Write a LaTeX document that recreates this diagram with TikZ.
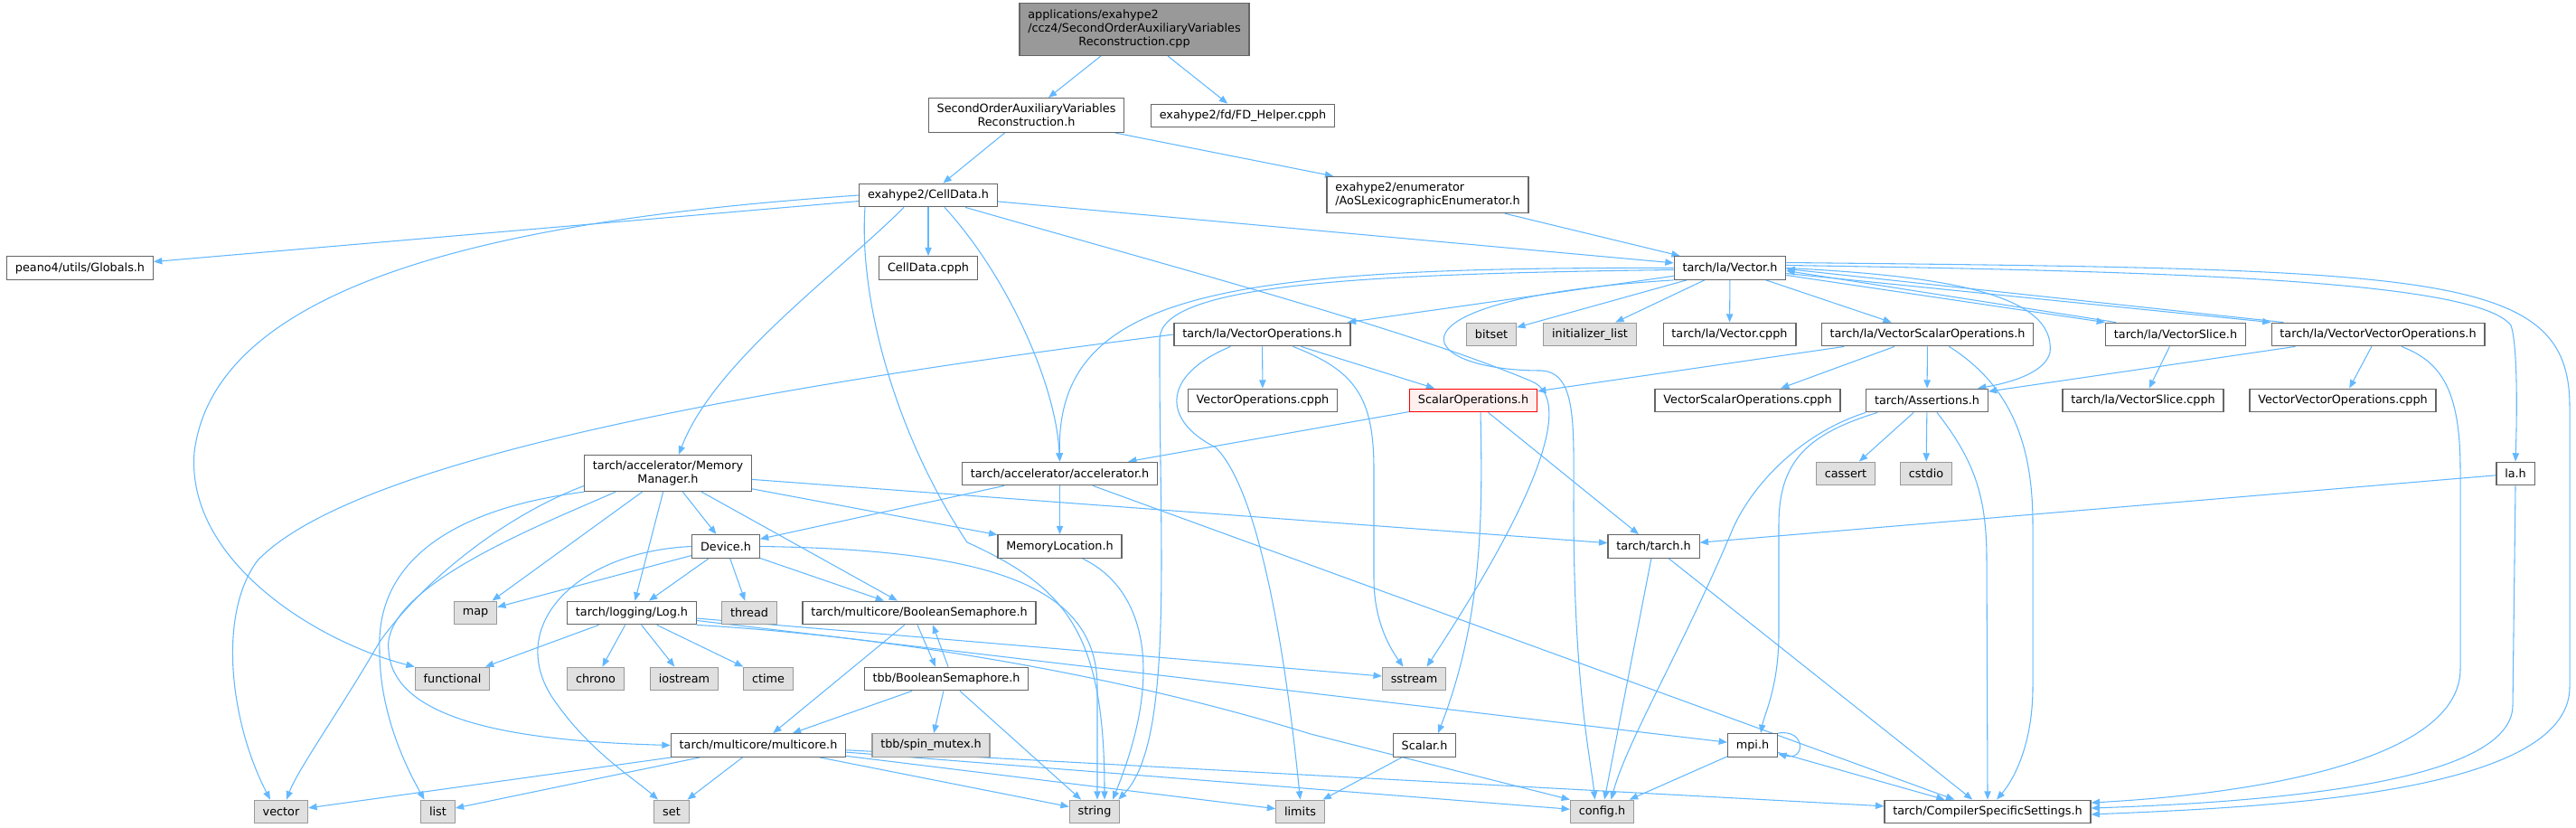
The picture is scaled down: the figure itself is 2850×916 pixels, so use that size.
\documentclass[tikz,border=0pt]{standalone}
\usepackage{fontspec}
\setmainfont{DejaVu Sans}
\usetikzlibrary{arrows.meta,calc}
\definecolor{edgeblue}{HTML}{63B8FF}
\definecolor{boxgrey}{HTML}{666666}
\definecolor{sysgrey}{HTML}{999999}
\definecolor{sysfill}{HTML}{E0E0E0}
\definecolor{rootfill}{HTML}{999999}
\definecolor{hotfill}{HTML}{FFF0F0}
\pgfdeclarelayer{bg}
\pgfsetlayers{bg,main}

\begin{document}
\begin{tikzpicture}[x=0.75pt, y=-0.75pt,
            hdr/.style={draw=boxgrey, fill=white, line width=0.9pt, inner xsep=7pt, inner ysep=4.8pt,
                minimum height=19.2pt, align=center, font=\fontsize{9.6}{11.25}\selectfont},
            sys/.style={hdr, draw=sysgrey, fill=sysfill},
            mainfile/.style={hdr, fill=rootfill},
            hot/.style={hdr, draw=red, fill=hotfill},
            incl/.style={draw=edgeblue, line width=0.8pt, -{Triangle[length=7pt,width=5.5pt]}}]
            \useasboundingbox (0,0) rectangle (2850,916);

            \node[mainfile] (root) at (1255,32.5) {\begin{tabular}{@{}l@{}}applications/exahype2\\/ccz4/SecondOrderAuxiliaryVariables\\\multicolumn{1}{@{}c@{}}{Reconstruction.cpp}\end{tabular}};
            \node[hdr] (sec) at (1135.5,127.5) {SecondOrderAuxiliaryVariables\\Reconstruction.h};
            \node[hdr] (fdh) at (1375,128) {exahype2/fd/FD\_Helper.cpph};
            \node[hdr] (celldata) at (1027,216) {exahype2/CellData.h};
            \node[hdr, align=left] (aos) at (1579.5,215.5) {exahype2/enumerator\\/AoSLexicographicEnumerator.h};

            \node[hdr] (globals) at (88.5,296.5) {peano4/utils/Globals.h};
            \node[hdr] (celldatacpph) at (1027,296.5) {CellData.cpph};
            \node[hdr] (vec) at (1914,296.5) {tarch/la/Vector.h};

            \node[hdr] (vecops) at (1396.5,370) {tarch/la/VectorOperations.h};
            \node[sys] (bitset) at (1650,370) {bitset};
            \node[sys] (initlist) at (1759,370) {initializer\_list};
            \node[hdr] (veccpph) at (1913.5,370) {tarch/la/Vector.cpph};
            \node[hdr] (vecscal) at (2132.5,370) {tarch/la/VectorScalarOperations.h};
            \node[hdr] (vecslice) at (2407,370) {tarch/la/VectorSlice.h};
            \node[hdr] (vecvec) at (2631,370) {tarch/la/VectorVectorOperations.h};

            \node[hdr] (vecopscpph) at (1397,443) {VectorOperations.cpph};
            \node[hot] (scalops) at (1630,443) {ScalarOperations.h};
            \node[hdr] (vecscalcpph) at (1933.5,443) {VectorScalarOperations.cpph};
            \node[hdr] (assertions) at (2132,443) {tarch/Assertions.h};
            \node[hdr] (vecslicecpph) at (2371,443) {tarch/la/VectorSlice.cpph};
            \node[hdr] (vecveccpph) at (2592,443) {VectorVectorOperations.cpph};

            \node[hdr] (memmgr) at (739,523.5) {tarch/accelerator/Memory\\Manager.h};
            \node[hdr] (accel) at (1172.5,524) {tarch/accelerator/accelerator.h};
            \node[sys] (cassert) at (2042,524) {cassert};
            \node[sys] (cstdio) at (2131,524) {cstdio};
            \node[hdr] (lah) at (2783,524) {la.h};

            \node[hdr] (device) at (803,604.5) {Device.h};
            \node[hdr] (memloc) at (1172.5,604.5) {MemoryLocation.h};
            \node[hdr] (tarchh) at (1829.5,604.5) {tarch/tarch.h};

            \node[sys] (map) at (526,678) {map};
            \node[hdr] (logh) at (699,678) {tarch/logging/Log.h};
            \node[sys] (thread) at (829,678) {thread};
            \node[hdr] (boolsem) at (1017,678) {tarch/multicore/BooleanSemaphore.h};

            \node[sys] (functional) at (500.5,751) {functional};
            \node[sys] (chrono) at (659,751) {chrono};
            \node[sys] (iostream) at (757,751) {iostream};
            \node[sys] (ctime) at (850,751) {ctime};
            \node[hdr] (tbbsem) at (1047,751) {tbb/BooleanSemaphore.h};
            \node[sys] (sstream) at (1564.5,751) {sstream};

            \node[hdr] (multicore) at (839,824.5) {tarch/multicore/multicore.h};
            \node[sys] (spinmutex) at (1030,824.5) {tbb/spin\_mutex.h};
            \node[hdr] (scalarh) at (1576,824.5) {Scalar.h};
            \node[hdr] (mpih) at (1939,824.5) {mpi.h};

            \node[sys] (vector) at (311,898) {vector};
            \node[sys] (list) at (484.5,898) {list};
            \node[sys] (set) at (743,898) {set};
            \node[sys] (string) at (1211,898) {string};
            \node[sys] (limits) at (1438.5,898) {limits};
            \node[sys] (config) at (1772.5,898) {config.h};
            \node[hdr] (css) at (2199,898) {tarch/CompilerSpecificSettings.h};

            \begin{pgfonlayer}{bg}
            \draw[incl] (root) -- (sec);
            \draw[incl] (root) -- (fdh);
            \draw[incl] (sec) -- (celldata);
            \draw[incl] (sec) -- (aos);
            \draw[incl] (aos) -- (vec);

            % CellData.h
            \draw[incl] (celldata) -- (globals);
            \draw[incl] (celldata.west) .. controls (600,240) and (240,300) .. (215,500) .. controls (205,620) and (350,710) .. (functional.north west);
            \draw[incl] ($(celldata.south)+(-27,0)$) .. controls (930,300) and (790,400) .. ($(memmgr.north)+(12,0)$);
            \draw[incl] ($(celldata.south)+(-70,0)$) .. controls (950,330) and (990,480) .. (1070,600) .. controls (1180,650) and (1222,700) .. ($(string.north)+(11,0)$);
            \draw[incl] (celldata) -- (celldatacpph);
            \draw[incl] ($(celldata.south)+(18,0)$) .. controls (1110,300) and (1168,420) .. (accel.north);
            \draw[incl] ($(celldata.south)+(41,0)$) .. controls (1300,296) and (1560,365) .. (1695,422) .. controls (1740,442) and (1705,545) .. ($(sstream.north)+(14,0)$);
            \draw[incl] (celldata) -- (vec);

            % Vector.h
            \draw[incl] (vec) -- (bitset);
            \draw[incl] (vec) -- (initlist);
            \draw[incl] (vec) -- (veccpph);
            \draw[incl] (vec) -- (vecops);
            \draw[incl] (vec) -- (vecscal);
            \draw[incl] ($(vec.east)+(0,8)$) -- (vecslice.north west);
            \draw[incl] ($(vecslice.north west)+(12,0)$) -- ($(vec.east)+(0,3)$);
            \draw[incl] ($(vec.east)+(0,6)$) -- (vecvec.north west);
            \draw[incl] ($(vecvec.north west)+(14,0)$) -- ($(vec.east)+(0,1)$);
            \draw[incl] (vec.west) .. controls (1350,295) and (1168,325) .. (accel.north);
            \draw[incl] ($(vec.west)+(0,2)$) .. controls (1500,303) and (1284,315) .. (1283,375) .. controls (1282,600) and (1300,820) .. ($(string.north east)+(-2,0)$);
            \draw[incl] (vec.south west) .. controls (1520,330) and (1560,410) .. (1705,410) .. controls (1745,412) and (1741,470) .. (1741,560) .. controls (1741,760) and (1760,840) .. ($(config.north)+(-8,0)$);
            \draw[incl] (vec.east) .. controls (2150,305) and (2275,325) .. (2268,390) .. controls (2262,415) and (2215,425) .. ($(assertions.north)+(56,0)$);
            \draw[incl] ($(vec.east)+(0,-3)$) .. controls (2400,300) and (2740,310) .. (2778,360) .. controls (2785,380) and (2785,450) .. (lah.north);
            \draw[incl] ($(vec.east)+(0,-6)$) .. controls (2700,298) and (2843,300) .. (2843,450) -- (2843,760) .. controls (2843,880) and (2500,893) .. ($(css.east)+(0,3)$);

            % VectorOperations.h
            \draw[incl] (vecops.west) .. controls (900,420) and (400,500) .. (285,620) .. controls (240,680) and (255,800) .. ($(vector.north)+(-12,0)$);
            \draw[incl] (vecops) -- (vecopscpph);
            \draw[incl] (vecops) -- (scalops);
            \draw[incl] ($(vecops.south)+(-35,0)$) .. controls (1285,415) and (1285,465) .. (1345,495) .. controls (1390,540) and (1420,700) .. (limits.north);
            \draw[incl] ($(vecops.south)+(34,0)$) .. controls (1500,410) and (1520,440) .. (1520,520) -- (1520,640) .. controls (1520,690) and (1540,720) .. ($(sstream.north)+(-12,0)$);

            % VectorScalarOperations.h, VectorSlice.h, VectorVectorOperations.h
            \draw[incl] (vecscal) -- (scalops);
            \draw[incl] (vecscal) -- (vecscalcpph);
            \draw[incl] (vecscal) -- (assertions);
            \draw[incl] ($(vecscal.south)+(24,0)$) .. controls (2230,430) and (2249,500) .. (2249,580) -- (2249,760) .. controls (2249,820) and (2230,860) .. ($(css.north)+(10,0)$);
            \draw[incl] (vecslice) -- (vecslicecpph);
            \draw[incl] (vecvec) -- (assertions);
            \draw[incl] (vecvec) -- (vecveccpph);
            \draw[incl] ($(vecvec.south)+(26,0)$) .. controls (2700,400) and (2722,430) .. (2722,520) -- (2722,740) .. controls (2722,840) and (2500,878) .. ($(css.east)+(0,-10)$);

            % Assertions.h, la.h
            \draw[incl] (assertions) -- (cassert);
            \draw[incl] (assertions) -- (cstdio);
            \draw[incl] ($(assertions.south)+(11,0)$) .. controls (2185,510) and (2198,550) .. (2198,620) -- (css.north);
            \draw[incl] ($(assertions.south west)+(13,0)$) .. controls (2000,480) and (1968,510) .. (1968,580) -- (1968,700) .. controls (1968,760) and (1952,790) .. ($(mpih.north)+(9,0)$);
            \draw[incl] (assertions.south west) .. controls (1990,480) and (1935,540) .. (1915,590) .. controls (1860,720) and (1800,820) .. ($(config.north)+(10,0)$);
            \draw[incl] (lah) -- (tarchh);
            \draw[incl] (lah.south) -- (2780,780) .. controls (2780,860) and (2550,886) .. ($(css.east)+(0,-4)$);

            % ScalarOperations.h
            \draw[incl] (scalops) -- (accel);
            \draw[incl] (scalops) -- (tarchh);
            \draw[incl] ($(scalops.south)+(8,0)$) .. controls (1640,560) and (1642,680) .. ($(scalarh.north)+(15,0)$);

            % MemoryManager.h
            \draw[incl] (memmgr) -- (device);
            \draw[incl] (memmgr) -- (memloc);
            \draw[incl] (memmgr) -- (tarchh);
            \draw[incl] (memmgr) -- (logh);
            \draw[incl] (memmgr) -- (boolsem);
            \draw[incl] (memmgr) -- (map);
            \draw[incl] ($(memmgr.west)+(0,14)$) .. controls (560,570) and (470,640) .. (420,710) .. controls (380,780) and (330,850) .. ($(vector.north)+(6,0)$);
            \draw[incl] (memmgr.south west) .. controls (520,560) and (415,610) .. (420,720) .. controls (420,790) and (450,850) .. ($(list.north)+(-15,0)$);
            \draw[incl] ($(memmgr.south west)+(35,0)$) .. controls (600,580) and (420,650) .. (430,720) .. controls (435,800) and (580,820) .. (multicore.west);

            % accelerator.h, Device.h, MemoryLocation.h, tarch.h
            \draw[incl] (accel) -- (device);
            \draw[incl] (accel) -- (memloc);
            \draw[incl] (accel) -- (css);
            \draw[incl] (device) -- (map);
            \draw[incl] (device) -- (logh);
            \draw[incl] (device) -- (thread);
            \draw[incl] (device) -- (boolsem);
            \draw[incl] (device.west) .. controls (640,610) and (560,690) .. (610,770) .. controls (650,830) and (700,860) .. ($(set.north)+(-15,0)$);
            \draw[incl] (device.east) .. controls (1100,608) and (1214,650) .. (1214,760) -- ($(string.north)+(3,0)$);
            \draw[incl] ($(memloc.south)+(25,0)$) .. controls (1265,650) and (1290,740) .. ($(string.north)+(20,0)$);
            \draw[incl] (tarchh) -- (config);
            \draw[incl] (tarchh) -- (css);

            % Log.h
            \draw[incl] (logh) -- (functional);
            \draw[incl] (logh) -- (chrono);
            \draw[incl] (logh) -- (iostream);
            \draw[incl] (logh) -- (ctime);
            \draw[incl] (logh) -- (sstream);
            \draw[incl] (logh) -- (mpih);
            \draw[incl] (logh.south east) .. controls (1000,705) and (1250,750) .. (1450,812) -- (config.north west);

            % semaphores, multicore.h
            \draw[incl] ($(boolsem.south)+(-2,0)$) -- ($(tbbsem.north)+(-12,0)$);
            \draw[incl] ($(tbbsem.north)+(2,0)$) -- ($(boolsem.south)+(15,0)$);
            \draw[incl] (boolsem) -- (multicore);
            \draw[incl] (tbbsem) -- (multicore);
            \draw[incl] (tbbsem) -- (spinmutex);
            \draw[incl] (tbbsem) -- (string);
            \draw[incl] (multicore) -- (vector);
            \draw[incl] (multicore) -- (list);
            \draw[incl] (multicore) -- (set);
            \draw[incl] (multicore) -- (string);
            \draw[incl] (multicore) -- (limits);
            \draw[incl] (multicore) -- (config);
            \draw[incl] (multicore) -- (css);

            \draw[incl] (scalarh) -- (limits);
            \draw[incl] (mpih) -- (config);
            \draw[incl] (mpih) -- (css);
            \draw[incl] (mpih.north east) .. controls (1998,806) and (1998,842) .. ($(mpih.south east)+(0,-4)$);
            \end{pgfonlayer}
\end{tikzpicture}
\end{document}
